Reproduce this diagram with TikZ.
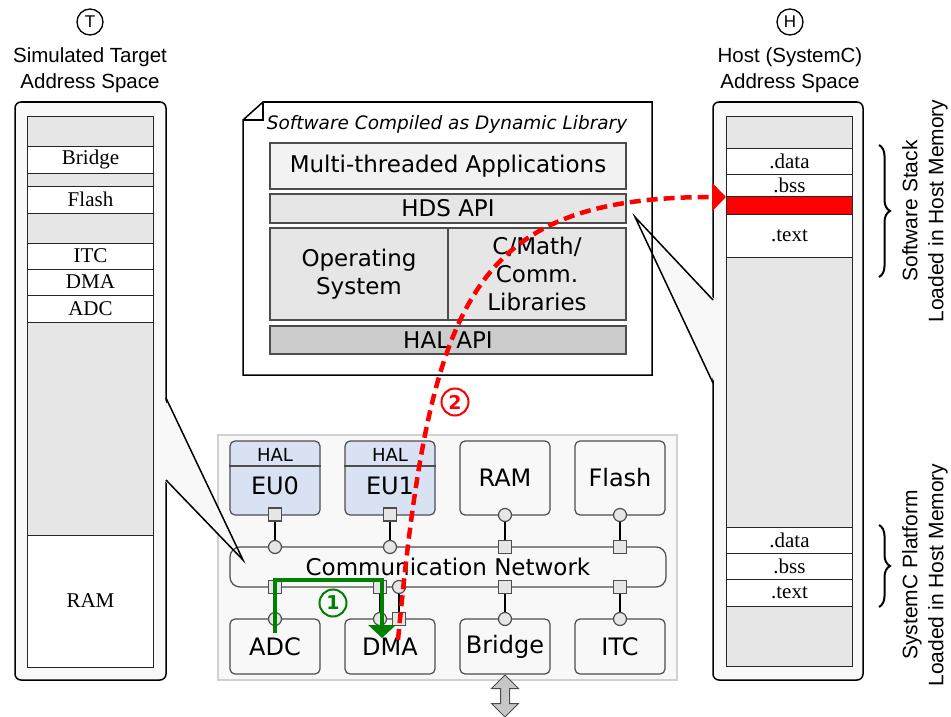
\documentclass[tikz,border=0pt]{standalone}
\usepackage{fontspec}
\setmainfont{Liberation Sans}
\newfontfamily\serifface{Liberation Serif}
\newfontfamily\dejavu{DejaVu Sans}
\usepackage{tikz}
\usetikzlibrary{arrows.meta}
\usetikzlibrary{decorations.pathreplacing}
\usetikzlibrary{shapes.arrows}

\definecolor{panelgray}{HTML}{F8F8F8}
\definecolor{seggray}{HTML}{E6E6E6}
\definecolor{appgray}{HTML}{F2F2F2}
\definecolor{halgray}{HTML}{CCCCCC}
\definecolor{eublue}{HTML}{D9E2F3}
\definecolor{edgegray}{HTML}{4D4D4D}
\definecolor{flowgreen}{HTML}{008000}
\definecolor{flowred}{HTML}{FF0000}

\tikzstyle{panel}=[draw=black, line width=1.5pt, fill=panelgray, rounded corners=6pt, inner sep=0pt]
\tikzstyle{seg}=[draw=black!85, line width=1pt, fill=white, inner sep=0pt, minimum width=126pt, font=\serifface\fontsize{21}{21}\selectfont]
\tikzstyle{gap}=[seg, fill=seggray]
\tikzstyle{layer}=[draw=edgegray, line width=1.2pt, fill=seggray, inner sep=0pt, align=center, font=\dejavu\fontsize{23}{28}\selectfont]
\tikzstyle{module}=[draw=edgegray, line width=1.2pt, fill=panelgray, rounded corners=5pt, minimum width=90pt, inner sep=0pt, font=\dejavu\fontsize{24}{24}\selectfont]
\tikzstyle{sqport}=[draw=edgegray, line width=1.2pt, fill=seggray, minimum size=13pt, inner sep=0pt]
\tikzstyle{ciport}=[sqport, circle]
\tikzstyle{link}=[line width=1.8pt]
\tikzstyle{heading}=[align=center, font=\fontsize{20.5}{26}\selectfont]
\tikzstyle{spacetag}=[draw, circle, line width=1.3pt, minimum size=26pt, inner sep=0pt, font=\fontsize{17}{17}\selectfont]
\tikzstyle{stepno}=[draw, circle, line width=2pt, minimum size=27pt, inner sep=0pt, font=\dejavu\bfseries\fontsize{19}{19}\selectfont]
\tikzstyle{sidelabel}=[rotate=90, align=center, font=\fontsize{21}{26}\selectfont]

\begin{document}
\begin{tikzpicture}[x=1pt, y=-1pt]
\useasboundingbox (0,0) rectangle (951,717);

% target address space
\node[spacetag] (tagT) at (90,22) {T};
\node[heading] (ttitle) at (90,70) {Simulated Target\\Address Space};
\node[panel, minimum width=151pt, minimum height=578pt] (tpanel) at (90.5,391) {};

\node[gap, minimum height=30pt] (tgap0) at (90.5,131) {};
\node[seg, minimum height=27pt] (tbridge) at (90.5,159.5) {Bridge};
\node[gap, minimum height=13pt] (tgap1) at (90.5,179.5) {};
\node[seg, minimum height=27pt] (tflash) at (90.5,199.5) {Flash};
\node[gap, minimum height=30pt] (tgap2) at (90.5,228) {};
\node[seg, minimum height=26pt] (titc) at (90.5,256) {ITC};
\node[seg, minimum height=26pt] (tdma) at (90.5,282) {DMA};
\node[seg, minimum height=27pt] (tadc) at (90.5,308.5) {ADC};
\node[gap, minimum height=213pt] (tgap3) at (90.5,428.5) {};
\node[seg, minimum height=132pt] (tram) at (90.5,601) {RAM};

% host address space
\node[spacetag] (tagH) at (790,22) {H};
\node[heading] (htitle) at (790,70) {Host (SystemC)\\Address Space};
\node[panel, minimum width=150pt, minimum height=578pt] (hpanel) at (788,391) {};
\fill[panelgray] (715,300) -- (635,217) -- (715,383) -- cycle;

\node[gap, minimum height=32pt] (hgap0) at (789.5,132) {};
\node[seg, minimum height=26pt] (swdata) at (789.5,161) {.data};
\node[seg, minimum height=22pt] (swbss) at (789.5,185) {.bss};
\node[seg, fill=flowred, minimum height=18pt] (swhit) at (789.5,205) {};
\node[seg, minimum height=43pt] (swtext) at (789.5,235.5) {.text};
\node[gap, minimum height=270pt] (hgap1) at (789.5,392) {};
\node[seg, minimum height=26pt] (pfdata) at (789.5,540) {.data};
\node[seg, minimum height=26pt] (pfbss) at (789.5,566) {.bss};
\node[seg, minimum height=27pt] (pftext) at (789.5,592.5) {.text};
\node[gap, minimum height=60pt] (hgap2) at (789.5,636) {};

% software stack
\draw[line width=1.5pt, fill=white] (263,102) -- (652,102) -- (652,375) -- (243,375) -- (243,120) -- cycle;
\draw[line width=1.2pt] (243,120) -- (263,120) -- (263,102);
\node[font=\dejavu\itshape\fontsize{18.5}{18.5}\selectfont] (swtitle) at (447,124) {Software Compiled as Dynamic Library};

\node[layer, fill=appgray, minimum width=356pt, minimum height=46pt] (apps) at (448,166) {Multi-threaded Applications};
\node[layer, minimum width=356pt, minimum height=29pt] (hds) at (448,208.5) {HDS API};
\node[layer, minimum width=178pt, minimum height=92pt] (os) at (359,274) {Operating\\System};
\node[layer, minimum width=178pt, minimum height=92pt] (libs) at (537,274) {C/Math/\\Comm.\\Libraries};
\node[layer, fill=halgray, minimum width=356pt, minimum height=28pt] (halapi) at (448,340) {HAL API};

% platform
\node[draw=black!18, line width=1.2pt, fill=panelgray, minimum width=459pt, minimum height=245pt, inner sep=0pt] (platform) at (447.5,557.5) {};
\fill[panelgray] (164,398) -- (243,560) -- (164,480) -- cycle;

\node[module, rounded corners=10pt, minimum width=436pt, minimum height=40pt, font=\dejavu\fontsize{23}{23}\selectfont] (net) at (448,567) {Communication Network};

\node[module, fill=eublue, minimum height=74pt] (eu0) at (275,478) {};
\node[font=\dejavu\fontsize{18}{18}\selectfont] (eu0hal) at (275,455) {HAL};
\node[font=\dejavu\fontsize{24}{24}\selectfont] (eu0name) at (275,486) {EU0};
\draw[edgegray, line width=1.2pt] (eu0.west |- 0,466) -- (eu0.east |- 0,466);

\node[module, fill=eublue, minimum height=74pt] (eu1) at (390,478) {};
\node[font=\dejavu\fontsize{18}{18}\selectfont] (eu1hal) at (390,455) {HAL};
\node[font=\dejavu\fontsize{24}{24}\selectfont] (eu1name) at (390,486) {EU1};
\draw[edgegray, line width=1.2pt] (eu1.west |- 0,466) -- (eu1.east |- 0,466);

\node[module, minimum height=74pt] (ram) at (505,478) {RAM};
\node[module, minimum height=74pt] (flash) at (620,478) {Flash};

\node[module, minimum height=55pt] (adc) at (275,646.5) {ADC};
\node[module, minimum height=55pt] (dma) at (390,646.5) {DMA};
\node[module, minimum height=55pt] (bridge) at (505,646.5) {Bridge};
\node[module, minimum height=55pt] (itc) at (620,646.5) {ITC};

\node[double arrow, rotate=90, draw=black!70, fill=black!22, line width=1pt, minimum height=42pt, minimum width=26pt, inner sep=4pt, double arrow head extend=9pt] (bridgeio) at (505,696) {};

% ports
\node[sqport] (eu0out) at (275,514.5) {};
\node[ciport] (eu0bus) at (275,547) {};
\node[sqport] (eu1out) at (390,514.5) {};
\node[ciport] (eu1bus) at (390,547) {};
\node[ciport] (ramin) at (505,515) {};
\node[sqport] (rambus) at (505,547) {};
\node[ciport] (flashin) at (620,515) {};
\node[sqport] (flashbus) at (620,547) {};

\node[sqport] (adcbus) at (275,587) {};
\node[ciport] (adcin) at (275,619) {};
\node[sqport] (dmabus) at (380,587) {};
\node[ciport] (dmain) at (380,619) {};
\node[ciport] (dmamaster) at (399,587) {};
\node[sqport] (dmaout) at (399,619) {};
\node[sqport] (bridgebus) at (505,587) {};
\node[ciport] (bridgein) at (505,619) {};
\node[sqport] (itcbus) at (620,587) {};
\node[ciport] (itcin) at (620,619) {};

\draw[link] (eu0out) -- (eu0bus);
\draw[link] (eu1out) -- (eu1bus);
\draw[link] (ramin) -- (rambus);
\draw[link] (flashin) -- (flashbus);
\draw[link] (adcbus) -- (adcin);
\draw[link] (dmabus) -- (dmain);
\draw[link] (dmaout) -- (dmamaster);
\draw[link] (bridgebus) -- (bridgein);
\draw[link] (itcbus) -- (itcin);

% callouts
\draw[line width=1.5pt, line join=miter] (166,398) -- (243,560) -- (166,480);
\draw[line width=1.5pt, line join=miter] (713,300) -- (635,217) -- (713,383);

% transfers
\coordinate (gstart) at (275,633);
\coordinate (gend) at (382,638);
\coordinate (gtop) at (0,580);
\draw[flowgreen, line width=4.5pt, -{Triangle[width=27pt,length=13pt]}] (gstart) |- (gend |- gtop) -- (gend);
\node[stepno, draw=flowgreen, text=flowgreen] (one) at (333,603) {1};

\coordinate (rstart) at (398,640);
\coordinate (rend) at (726,197);
\draw[flowred, line width=4.5pt, dash pattern=on 11pt off 6pt, -{Triangle[width=28pt,length=14pt]}] (rstart) .. controls (430,300) and (470,197) .. (rend);
\node[stepno, draw=flowred, text=flowred, fill=white] (two) at (455,402) {2};

% braces
\coordinate (swtop) at (879,145);
\coordinate (swbot) at (879,277);
\coordinate (pftop) at (879,525);
\coordinate (pfbot) at (879,607);
\draw[line width=2pt, decorate, decoration={brace, amplitude=11pt}] (swtop) -- (swbot);
\draw[line width=2pt, decorate, decoration={brace, amplitude=11pt}] (pftop) -- (pfbot);
\node[sidelabel] (swlabel) at (925,211) {Software Stack\\Loaded in Host Memory};
\node[sidelabel] (pflabel) at (925,575) {SystemC Platform\\Loaded in Host Memory};

\end{tikzpicture}
\end{document}
